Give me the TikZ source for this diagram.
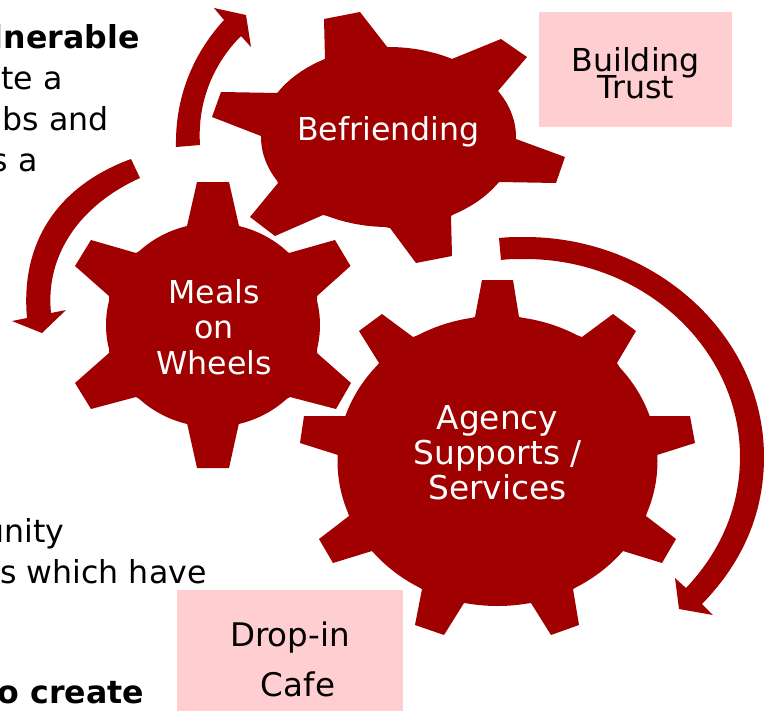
\documentclass[tikz,border=0pt]{standalone}
\usepackage{fontspec}
\setmainfont{DejaVu Sans}
\usetikzlibrary{shapes.geometric}
\definecolor{gearred}{HTML}{A00000}
\definecolor{boxpink}{HTML}{FFCED0}
\newcommand{\bigsize}[2]{\fontsize{#1}{#2}\selectfont\lineskiplimit=-100pt\relax}
\tikzset{
  every node/.style={inner sep=0pt,outer sep=0pt},
  gearbody/.style={ellipse,fill=gearred,draw=none},
  teeth/.style={fill=gearred,draw=none},
  bend arrow/.style={fill=gearred,draw=none},
  gearlabel/.style={text=white,align=center,anchor=center},
  notebox/.style={rectangle,fill=boxpink,draw=none},
  notelabel/.style={text=black,align=center,anchor=center},
  sidetext/.style={text=black,anchor=base east,font=\bigsize{23.7}{28}}
}
\begin{document}
\begin{tikzpicture}[x=0.75pt,y=-0.75pt]
\useasboundingbox (0,0) rectangle (772,711);
\clip (0,0) rectangle (772,711);

% text behind the diagram, cut at the picture edge
\node[sidetext] (t1) at (139.5,48) {\textbf{lnerable}};
\node[sidetext] (t2) at (62.5,89) {te a};
\node[sidetext] (t3) at (108.5,130) {ubs and};
\node[sidetext] (t4) at (37.5,171) {s a};
\node[sidetext] (t5) at (64.5,542) {unity};
\node[sidetext] (t6) at (206.5,583) {s which have};
\node[sidetext] (t7) at (144,703) {\textbf{o create}};

% pink boxes
\node[notebox,minimum width=144.75pt,minimum height=86.25pt] (trustbox) at (635.5,69.5) {};
\node[notebox,minimum width=169.5pt,minimum height=90.75pt] (cafebox) at (290,650.5) {};

% teeth
\fill[teeth] (324,19)--(360,12)--(388,48)--(452,59)--(501,39)--(527,57)--(498,91)--(516,139)--(565,157)--(556,183)--(499,182)--(451,216)--(452,256)--(416,263)--(390,228)--(323,215)--(275,236)--(250,217)--(278,183)--(261,136)--(212,117)--(221,92)--(278,93)--(325,59)--cycle;
\fill[teeth] (197,182)--(229,182)--(239,226)--(289,253)--(335,240)--(350.5,266)--(317,296)--(317,353)--(351,383)--(336,409)--(290,397)--(239,423)--(229,468)--(197,468)--(187,423)--(136,397)--(91,409)--(75,383)--(109,353)--(109,296)--(75,266)--(91,240)--(136,253)--(187,226)--cycle;
\fill[teeth] (482,280)--(513,280)--(519,317)--(582,337)--(613,314)--(636,331)--(617,363)--(649,416)--(690,416)--(695,443)--(657,455)--(646,516)--(676,539)--(662,563)--(623,551)--(573,589)--(579,625)--(551,635)--(531,603)--(464,603)--(444,635)--(415,625)--(422,589)--(372,551)--(333,563)--(319,539)--(349,516)--(338,455)--(300,443)--(304,416)--(346,416)--(379,363)--(359,331)--(382,314)--(413,337)--(475,317)--cycle;

% gear bodies
\node[gearbody,minimum width=191.25pt,minimum height=135pt] (befriending) at (388.5,137) {};
\node[gearbody,minimum width=160.5pt,minimum height=153pt] (meals) at (213,325) {};
\node[gearbody,minimum width=240pt,minimum height=217.5pt] (agency) at (497.5,461) {};

% curved arrows
\fill[bend arrow] (176,147) .. controls (175,100) and (191,56) .. (224,20) -- (214,8) -- (246,15) -- (251,47) -- (241,36) .. controls (215,62) and (197,100) .. (200,145) -- cycle;
\fill[bend arrow] (131,159) .. controls (60,185) and (20,240) .. (27,318) -- (12,321) -- (42,333) -- (66,310) -- (51,313) .. controls (45,255) and (80,205) .. (140,178) -- cycle;
\fill[bend arrow] (499,238) .. controls (508,237) and (516,237) .. (525,237) .. controls (655,237) and (764,335) .. (764,457) .. controls (764,510) and (745,560) .. (702,604) -- (713,615) -- (679,609) -- (675,578) -- (686,588) .. controls (722,550) and (740,505) .. (740,457) .. controls (740,350) and (645,259) .. (525,259) .. controls (516,259) and (508,259) .. (501,260) -- cycle;

% labels
\node[gearlabel,font=\bigsize{23.7}{26.5}] (befriendinglabel) at (388.5,132) {Befriending};
\node[gearlabel,font=\bigsize{23.7}{26.5}] (mealslabel) at (214,327) {Meals\\on\\Wheels};
\node[gearlabel,font=\bigsize{24.6}{26.2}] (agencylabel) at (497.5,453) {Agency\\Supports /\\Services};
\node[notelabel,font=\bigsize{23.7}{20.2}] (trustlabel) at (635.8,73) {Building\\Trust};
\node[notelabel,font=\bigsize{24.4}{37.5}] (cafelabel) at (298,659.5) {Drop-in\hspace*{12pt}\\Cafe};
\end{tikzpicture}
\end{document}
